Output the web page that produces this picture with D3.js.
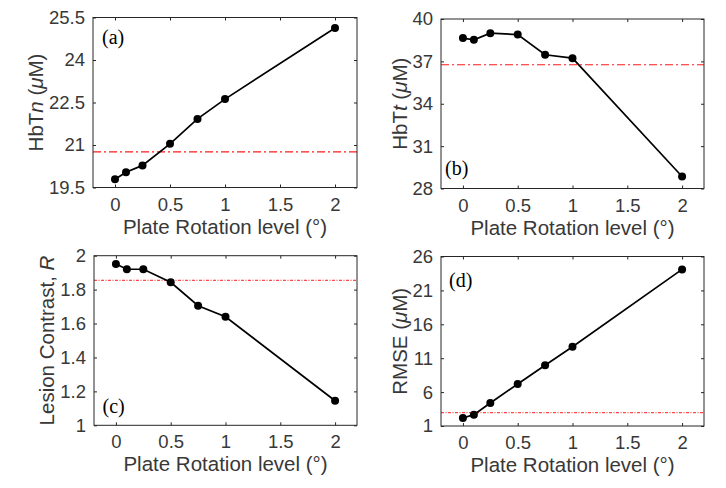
<!DOCTYPE html>
<html>
<head>
<meta charset="utf-8">
<script src="https://cdn.jsdelivr.net/npm/d3@7"></script>
<style>
  html, body { margin: 0; padding: 0; background: #fff; }
  svg { display: block; }
</style>
</head>
<body>
<svg id="chart" width="726" height="488"></svg>
<script>
// ---------------- data ----------------
const rotationLevels = [0, 0.1, 0.25, 0.5, 0.75, 1, 2];
const hbtnValues     = [19.79, 20.04, 20.28, 21.04, 21.92, 22.62, 25.13];
const hbttValues     = [38.65, 38.53, 39.0, 38.9, 37.47, 37.23, 28.85];
const contrastValues = [1.951, 1.92, 1.92, 1.843, 1.705, 1.64, 1.145];
const rmseValues     = [2.18, 2.67, 4.4, 7.2, 9.96, 12.7, 24.1];
const referenceValues = [20.76, 36.76, 1.855, 2.96];

const xTicks        = [0, 0.5, 1, 1.5, 2];
const xTickLabels   = ["0", "0.5", "1", "1.5", "2"];
const hbtnTicks     = [19.5, 21, 22.5, 24, 25.5];
const hbtnLabels    = ["19.5", "21", "22.5", "24", "25.5"];
const hbttTicks     = [28, 31, 34, 37, 40];
const hbttLabels    = ["28", "31", "34", "37", "40"];
const contrastTicks = [1, 1.2, 1.4, 1.6, 1.8, 2];
const contrastLabels= ["1", "1.2", "1.4", "1.6", "1.8", "2"];
const rmseTicks     = [1, 6, 11, 16, 21, 26];
const rmseLabels    = ["1", "6", "11", "16", "21", "26"];
const panelLetters  = ["(a)", "(b)", "(c)", "(d)"];
const xAxisTitle    = "Plate Rotation level (°)";

// ---------------- layout ----------------
const svg = d3.select("#chart");
const panels = [
  { values: hbtnValues, ref: referenceValues[0], ticks: hbtnTicks, labels: hbtnLabels,
    letter: panelLetters[0], box: [93, 17.5, 357, 187.5], ylabX: 43, letterPos: ["top", 9, 26],
    ylab: [["HbT", false], ["n", true], [" (", false], ["μ", true], ["M)", false]], refDash: "8,3,2,3", refW: 1.2 },
  { values: hbttValues, ref: referenceValues[1], ticks: hbttTicks, labels: hbttLabels,
    letter: panelLetters[1], box: [441, 19, 704, 188.5], ylabX: 407, letterPos: ["bottom", 4, -13.7],
    ylab: [["HbT", false], ["t", true], [" (", false], ["μ", true], ["M)", false]], refDash: "8,3,2,3", refW: 1.2 },
  { values: contrastValues, ref: referenceValues[2], ticks: contrastTicks, labels: contrastLabels,
    letter: panelLetters[2], box: [94, 255.7, 357, 425.3], ylabX: 54, letterPos: ["bottom", 8.5, -12],
    ylab: [["Lesion Contrast, ", false], ["R", true]], refDash: "3,1.5,1,1.5", refW: 1 },
  { values: rmseValues, ref: referenceValues[3], ticks: rmseTicks, labels: rmseLabels,
    letter: panelLetters[3], box: [441, 256.5, 704, 426], ylabX: 407, letterPos: ["top", 8, 30],
    ylab: [["RMSE (", false], ["μ", true], ["M)", false]], refDash: "3,1.5,1,1.5", refW: 1 }
];

const axisColor = "#262626";
const textColor = "#383838";
const sans = "'Liberation Sans', Arial, Helvetica, sans-serif";
const tickLen = 3;

panels.forEach(p => {
  const [x0, y0, x1, y1] = p.box;
  const x = d3.scaleLinear().domain([-0.2, 2.2]).range([x0, x1]);
  const yDom = [p.ticks[0], p.ticks[p.ticks.length - 1]];
  const y = d3.scaleLinear().domain(yDom).range([y1, y0]);
  const g = svg.append("g");

  // reference line
  g.append("line")
    .attr("x1", x0).attr("x2", x1)
    .attr("y1", y(p.ref)).attr("y2", y(p.ref))
    .attr("stroke", "#ff1a1a").attr("stroke-width", p.refW)
    .attr("stroke-dasharray", p.refDash);

  // data line
  const pts = rotationLevels.map((r, i) => [r, p.values[i]]);
  g.append("path")
    .attr("d", d3.line().x(d => x(d[0])).y(d => y(d[1]))(pts))
    .attr("fill", "none").attr("stroke", "#000").attr("stroke-width", 1.7);
  g.selectAll("circle.pt").data(pts).enter().append("circle")
    .attr("cx", d => x(d[0])).attr("cy", d => y(d[1]))
    .attr("r", 4).attr("fill", "#000");

  // axes via d3 axis generators (inward ticks, no domain path)
  const fmtX = d => xTickLabels[xTicks.indexOf(d)];
  const fmtY = d => p.labels[p.ticks.indexOf(d)];

  const bottom = g.append("g").attr("transform", `translate(0,${y1})`)
    .call(d3.axisBottom(x).tickValues(xTicks).tickFormat(fmtX).tickSizeInner(-tickLen).tickSizeOuter(0).tickPadding(10));
  const top = g.append("g").attr("transform", `translate(0,${y0})`)
    .call(d3.axisTop(x).tickValues(xTicks).tickFormat("").tickSizeInner(-tickLen).tickSizeOuter(0));
  const left = g.append("g").attr("transform", `translate(${x0},0)`)
    .call(d3.axisLeft(y).tickValues(p.ticks).tickFormat(fmtY).tickSizeInner(-tickLen).tickSizeOuter(0).tickPadding(8));
  const right = g.append("g").attr("transform", `translate(${x1},0)`)
    .call(d3.axisRight(y).tickValues(p.ticks).tickFormat("").tickSizeInner(-tickLen).tickSizeOuter(0));

  [bottom, top, left, right].forEach(a => {
    a.select(".domain").remove();
    a.selectAll("line").attr("stroke", axisColor).attr("stroke-width", 1);
    a.selectAll("text").attr("fill", textColor)
      .style("font-family", sans).style("font-size", "18.5px");
  });
  bottom.selectAll("text").attr("dy", "0.71em");

  // frame
  g.append("rect").attr("x", x0).attr("y", y0)
    .attr("width", x1 - x0).attr("height", y1 - y0)
    .attr("fill", "none").attr("stroke", axisColor).attr("stroke-width", 1);

  // x axis title
  g.append("text")
    .attr("x", (x0 + x1) / 2).attr("y", y1 + 46)
    .attr("text-anchor", "middle")
    .attr("fill", textColor)
    .style("font-family", sans).style("font-size", "20.5px")
    .text(xAxisTitle);

  // y axis title
  const yt = g.append("text")
    .attr("transform", `translate(${p.ylabX},${(y0 + y1) / 2}) rotate(-90)`)
    .attr("text-anchor", "middle")
    .attr("fill", textColor)
    .style("font-family", sans).style("font-size", "20.5px");
  p.ylab.forEach(([t, it]) => {
    yt.append("tspan").text(t).style("font-style", it ? "italic" : "normal");
  });

  // panel letter
  const [anchor, dx, dy] = p.letterPos;
  g.append("text")
    .attr("x", x0 + dx)
    .attr("y", (anchor === "top" ? y0 : y1) + dy)
    .attr("fill", "#000")
    .style("font-family", "'Liberation Serif', 'Times New Roman', serif")
    .style("font-size", "20px")
    .text(p.letter);
});
</script>
</body>
</html>
